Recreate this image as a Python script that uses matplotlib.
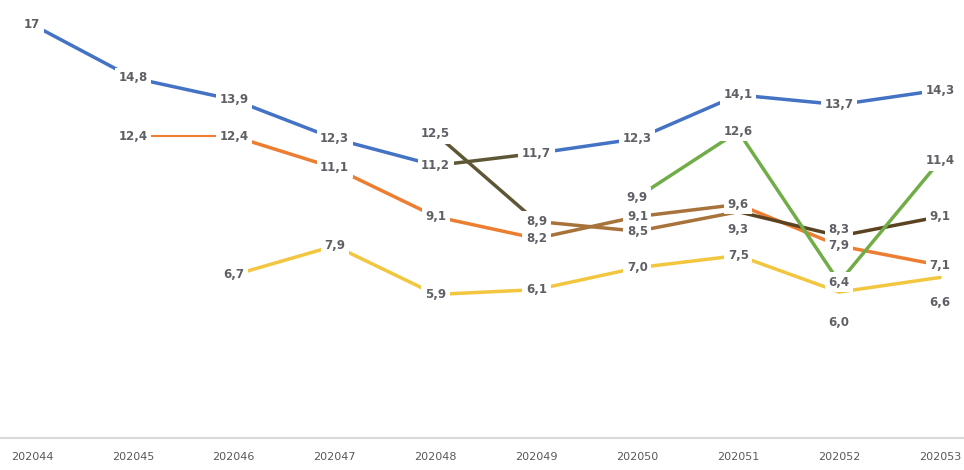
import numpy as np
import matplotlib.pyplot as plt

nan = np.nan
weeks = ['202044', '202045', '202046', '202047', '202048',
         '202049', '202050', '202051', '202052', '202053']

blue = [17, 14.8, 13.9, 12.3, 11.2, 11.7, 12.3, 14.1, 13.7, 14.3]
orange = [nan, 12.4, 12.4, 11.1, 9.1, 8.2, 9.1, 9.6, 7.9, 7.1]
olive = [nan, nan, nan, nan, 12.5, 8.9, 8.5, 9.3, 8.3, 9.1]
green = [nan, nan, nan, nan, nan, nan, 9.9, 12.6, 6.4, 11.4]
yellow = [nan, nan, 6.7, 7.9, 5.9, 6.1, 7.0, 7.5, 6.0, 6.6]

# colour of each segment (segment i joins point i and i+1)
BLUE, ORANGE, GREEN, YELLOW = '#4472c4', '#ed7d31', '#70ad47', '#f3c63f'
BROWN, DARKBROWN, OLIVE = '#a8733a', '#5b4322', '#5d5736'
series = [
    (blue, [BLUE] * 4 + [OLIVE] + [BLUE] * 4),
    (orange, [ORANGE] * 5 + [BROWN, BROWN] + [ORANGE] * 2),
    (olive, [OLIVE] * 5 + [BROWN, BROWN] + [DARKBROWN] * 2),
    (green, [GREEN] * 9),
    (yellow, [YELLOW] * 9),
]

# label offsets in points (dx, dy) for labels not centred on the point
offsets = {('y', 8): (0, -22), ('y', 9): (0, -18), ('o', 7): (0, -13),
           ('o', 8): (0, 5)}

fig = plt.figure(figsize=(9.64, 4.70), dpi=100)
ax = fig.add_axes([0, 0.068, 1, 0.932])
x = np.arange(len(weeks))

for vals, cols in series:
    for i in range(len(vals) - 1):
        if np.isnan(vals[i]) or np.isnan(vals[i + 1]):
            continue
        lw = 1.5 if (vals is orange and i == 1) else 2.5
        ax.plot(x[i:i + 2], vals[i:i + 2], color=cols[i], lw=lw,
                solid_capstyle='round', zorder=2)

keys = ['b', 'r', 'o', 'g', 'y']
for key, (vals, _) in zip(keys, series):
    for i, v in enumerate(vals):
        if np.isnan(v):
            continue
        dx, dy = offsets.get((key, i), (0, 0))
        txt = ('%.1f' % v).replace('.', ',')
        if key == 'b' and i == 0:
            txt = '17'
        ax.annotate(txt, (x[i], v), xytext=(dx, dy), textcoords='offset points',
                    ha='center', va='center', fontsize=8.5, fontweight='bold',
                    color='#5f5f66', zorder=5,
                    bbox=dict(boxstyle='square,pad=0.3', fc='white', ec='none'))

ax.set_xlim(-0.317, 9.237)
ax.set_ylim(0, 18)
ax.set_xticks(x)
ax.set_xticklabels(weeks)
ax.set_yticks([])
for s in ['top', 'left', 'right']:
    ax.spines[s].set_visible(False)
ax.spines['bottom'].set_color('#d9d9d9')
ax.spines['bottom'].set_linewidth(1.5)
ax.tick_params(axis='x', length=0, pad=10, labelsize=8, labelcolor='#595959')

fig.savefig('out.png', dpi=100)
